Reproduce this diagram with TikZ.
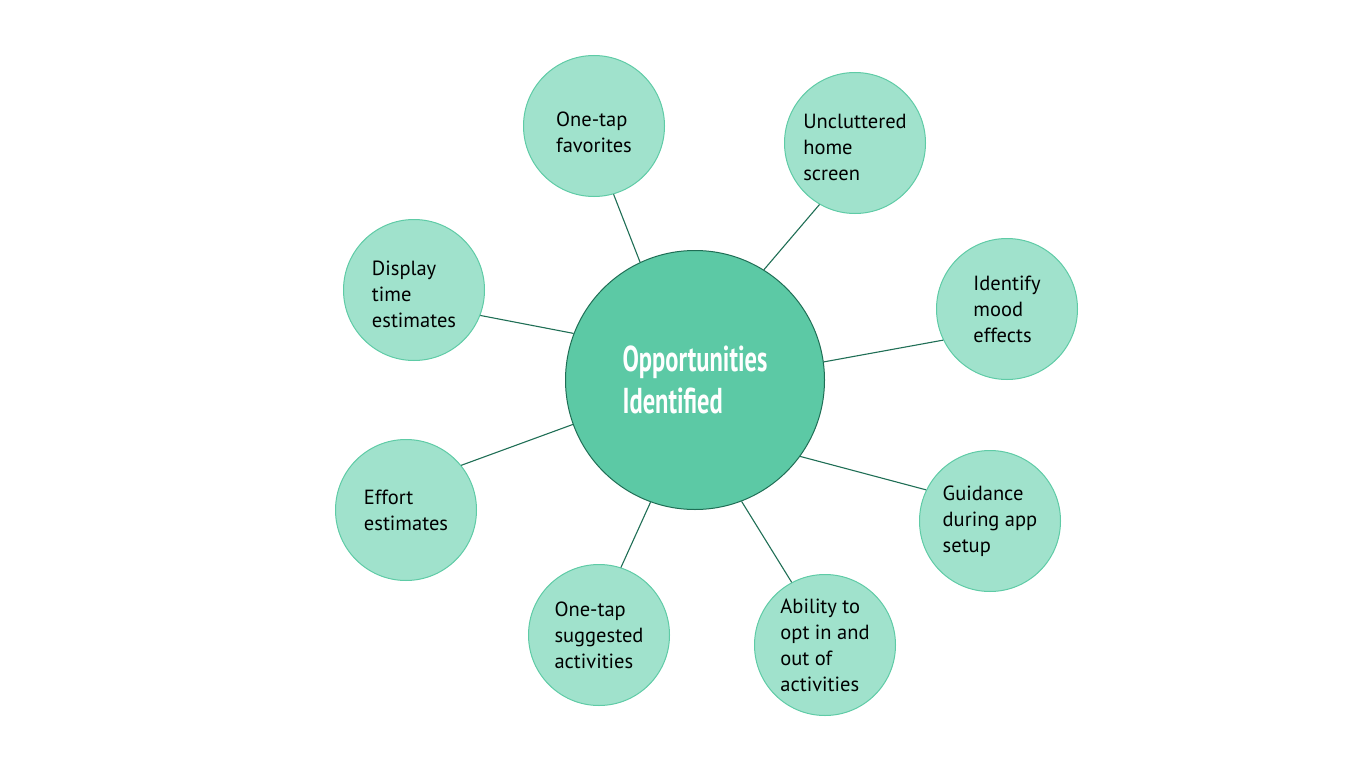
\documentclass[tikz,border=0pt]{standalone}
\usepackage{fontspec}
\setmainfont{PT Sans}
\newfontfamily\condbold[FakeStretch=0.68]{PT Sans}
\definecolor{smallfill}{HTML}{A0E2CC}
\definecolor{smallline}{HTML}{5FCBA6}
\definecolor{bigfill}{HTML}{5CC9A5}
\definecolor{darkgreen}{HTML}{1F6E55}
\tikzset{
  idea/.style={circle, minimum size=141pt, inner sep=0pt, fill=smallfill, draw=smallline, line width=1pt,
    align=left, font=\fontsize{20.5}{26}\selectfont, text=black},
  hub/.style={circle, minimum size=259pt, inner sep=0pt, fill=bigfill, draw=darkgreen, line width=1pt,
    align=left, font=\condbold\bfseries\fontsize{36}{42}\selectfont, text=white},
  link/.style={draw=darkgreen, line width=1.1pt}
}
\begin{document}
\begin{tikzpicture}[x=1pt,y=-1pt]
\useasboundingbox (0,0) rectangle (1366,768);
\node[hub] (c) at (695,380) {Opportunities\\Identified};
\node[idea] (fav) at (594,126) {\rule{0pt}{28pt}One-tap\\favorites};
\node[idea] (unc) at (855,143) {\rule{0pt}{24pt}Uncluttered\\home\\screen};
\node[idea] (mood) at (1007,309) {Identify\\mood\\effects};
\node[idea] (guid) at (990,521) {Guidance\\during app\\setup};
\node[idea] (abil) at (825,645) {Ability to\\opt in and\\out of\\activities};
\node[idea] (sugg) at (599,635) {One-tap\\suggested\\activities};
\node[idea] (eff) at (406,510) {Effort\\estimates};
\node[idea] (disp) at (414,290) {\rule{0pt}{24pt}Display\\time\\estimates};
\draw[link] (c.115) -- (fav.-74);
\draw[link] (c.58.7) -- (unc.240.6);
\draw[link] (c.8.7) -- (mood.206.2);
\draw[link] (c.-36.6) -- (guid.154.5);
\draw[link] (c.-69.3) -- (abil.118.3);
\draw[link] (c.-110.7) -- (sugg.72.8);
\draw[link] (c.200.8) -- (eff.39.9);
\draw[link] (c.159.2) -- (disp.-21.8);
\end{tikzpicture}
\end{document}
